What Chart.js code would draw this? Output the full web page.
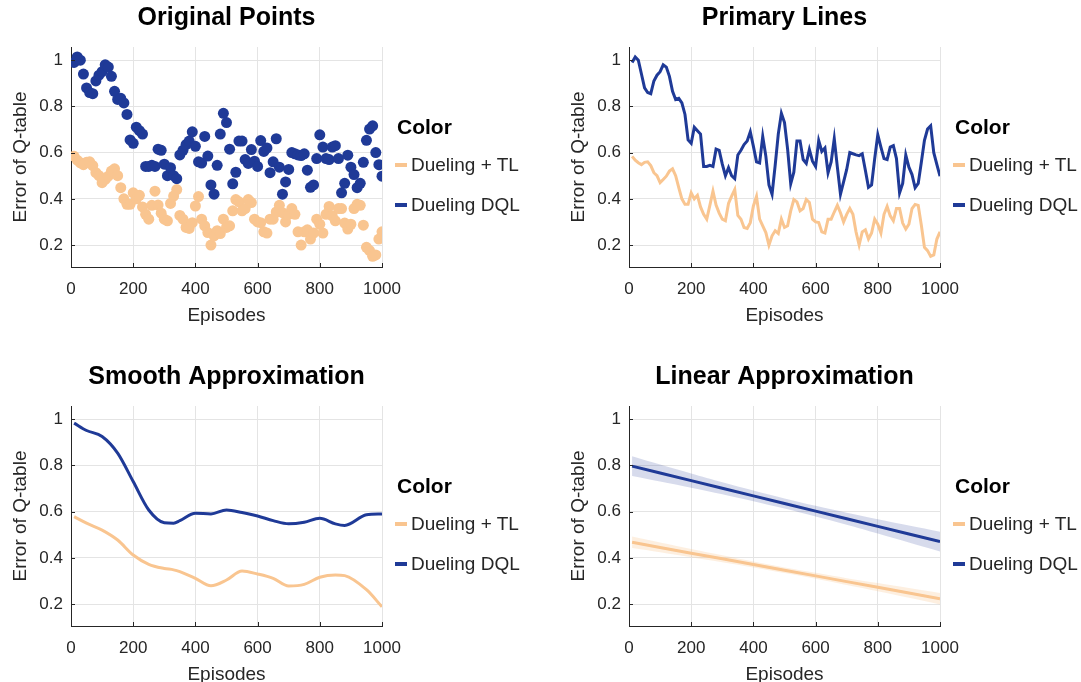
<!DOCTYPE html>
<html>
<head>
<meta charset="utf-8">
<script src="https://cdn.jsdelivr.net/npm/chart.js@4.4.1/dist/chart.umd.min.js"></script>
<style>
  html, body { margin: 0; padding: 0; background: #fff; overflow: hidden; }
  body { width: 1081px; height: 682px; position: relative; font-family: "Liberation Sans", Arial, sans-serif; }
  .panel { position: absolute; width: 523px; height: 341px; }
  .panel canvas { position: absolute; left: 0; top: 0; }
  .leg-title { position: absolute; left: 397px; top: 114px; height: 26px; line-height: 26px; font-size: 21px; font-weight: bold; color: #000; }
  .leg-item { position: absolute; left: 395px; height: 26px; line-height: 26px; font-size: 19px; color: #262626; white-space: nowrap; }
  .leg-item span { display: inline-block; width: 12px; height: 4px; margin-right: 4px; vertical-align: middle; position: relative; top: -1px; }
</style>
</head>
<body>
<div class="panel" id="p1" style="left:0;top:0"><canvas id="c1" width="523" height="341"></canvas></div>
<div class="panel" id="p2" style="left:558px;top:0"><canvas id="c2" width="523" height="341"></canvas></div>
<div class="panel" id="p3" style="left:0;top:359px"><canvas id="c3" width="523" height="341"></canvas></div>
<div class="panel" id="p4" style="left:558px;top:359px"><canvas id="c4" width="523" height="341"></canvas></div>
<script>
// 系列名と色
var seriesNames = ['Dueling + TL', 'Dueling DQL'];
var seriesColors = ['#F9C590', '#1F3A97'];
var bandColors = ['rgba(249,197,144,0.28)', 'rgba(31,58,151,0.18)'];

var xTicks = [0, 200, 400, 600, 800, 1000];
var yTicks = [0.2, 0.4, 0.6, 0.8, 1];
var yMin = 0.105, yMax = 1.057;

// 元データ (10 エピソードごと)
var episodes = [10, 20, 30, 40, 50, 60, 70, 80, 90, 100,
  110, 120, 130, 140, 150, 160, 170, 180, 190, 200,
  210, 220, 230, 240, 250, 260, 270, 280, 290, 300,
  310, 320, 330, 340, 350, 360, 370, 380, 390, 400,
  410, 420, 430, 440, 450, 460, 470, 480, 490, 500,
  510, 520, 530, 540, 550, 560, 570, 580, 590, 600,
  610, 620, 630, 640, 650, 660, 670, 680, 690, 700,
  710, 720, 730, 740, 750, 760, 770, 780, 790, 800,
  810, 820, 830, 840, 850, 860, 870, 880, 890, 900,
  910, 920, 930, 940, 950, 960, 970, 980, 990, 1000];

var tlErr = [0.584, 0.567, 0.556, 0.548, 0.558, 0.56, 0.544, 0.513, 0.5, 0.47,
  0.484, 0.498, 0.52, 0.53, 0.5, 0.448, 0.4, 0.376, 0.376, 0.426,
  0.4, 0.415, 0.365, 0.333, 0.312, 0.372, 0.433, 0.373, 0.338, 0.312,
  0.305, 0.38, 0.412, 0.44, 0.328, 0.312, 0.276, 0.272, 0.297, 0.369,
  0.41, 0.312, 0.283, 0.254, 0.2, 0.24, 0.262, 0.25, 0.312, 0.276,
  0.283, 0.348, 0.397, 0.387, 0.348, 0.358, 0.397, 0.384, 0.312, 0.3,
  0.297, 0.257, 0.252, 0.312, 0.312, 0.343, 0.372, 0.34, 0.3, 0.333,
  0.358, 0.333, 0.257, 0.2, 0.257, 0.266, 0.226, 0.252, 0.312, 0.29,
  0.252, 0.333, 0.367, 0.326, 0.305, 0.358, 0.358, 0.295, 0.269, 0.29,
  0.358, 0.376, 0.372, 0.286, 0.19, 0.176, 0.151, 0.157, 0.226, 0.257];

var dqlErr = [0.99, 1.014, 1.0, 0.94, 0.88, 0.86, 0.855, 0.91, 0.935, 0.95,
  0.98, 0.97, 0.93, 0.865, 0.83, 0.835, 0.815, 0.765, 0.655, 0.64,
  0.71, 0.695, 0.68, 0.54, 0.54, 0.545, 0.54, 0.615, 0.61, 0.55,
  0.5, 0.535, 0.5, 0.487, 0.59, 0.61, 0.635, 0.65, 0.69, 0.627,
  0.56, 0.555, 0.67, 0.585, 0.46, 0.42, 0.545, 0.68, 0.77, 0.73,
  0.615, 0.465, 0.515, 0.65, 0.65, 0.57, 0.553, 0.613, 0.563, 0.54,
  0.652, 0.605, 0.62, 0.513, 0.56, 0.66, 0.537, 0.42, 0.473, 0.527,
  0.6, 0.595, 0.59, 0.587, 0.595, 0.524, 0.45, 0.46, 0.574, 0.677,
  0.624, 0.574, 0.57, 0.624, 0.63, 0.574, 0.426, 0.467, 0.589, 0.537,
  0.505, 0.448, 0.467, 0.558, 0.653, 0.702, 0.716, 0.6, 0.548, 0.498];

// 平滑化曲線
var smoothEp = [10, 50, 100, 150, 200, 250, 300, 330, 350, 400, 450, 500, 550, 600, 650, 700, 750, 800, 850, 880, 950, 1000];
var tlSmooth = [0.578, 0.55, 0.52, 0.477, 0.412, 0.372, 0.354, 0.348, 0.34, 0.311, 0.279, 0.304, 0.343, 0.33, 0.311, 0.278, 0.285, 0.316, 0.326, 0.323, 0.262, 0.188];
var dqlSmooth = [0.983, 0.951, 0.925, 0.853, 0.73, 0.607, 0.552, 0.55, 0.561, 0.593, 0.59, 0.607, 0.596, 0.581, 0.561, 0.547, 0.554, 0.571, 0.547, 0.54, 0.586, 0.59];

// 線形近似と信頼区間
var linEp = [10, 100, 200, 300, 400, 500, 600, 700, 800, 900, 1000];
var tlLin = [0.467, 0.445, 0.420, 0.396, 0.371, 0.346, 0.322, 0.297, 0.273, 0.248, 0.223];
var tlLinUp = [0.492, 0.466, 0.438, 0.411, 0.384, 0.358, 0.335, 0.312, 0.291, 0.269, 0.248];
var tlLinLo = [0.442, 0.424, 0.402, 0.381, 0.358, 0.334, 0.309, 0.282, 0.255, 0.227, 0.198];
var dqlLin = [0.797, 0.767, 0.734, 0.701, 0.668, 0.635, 0.602, 0.569, 0.536, 0.503, 0.470];
var dqlLinUp = [0.840, 0.804, 0.765, 0.727, 0.691, 0.657, 0.625, 0.595, 0.567, 0.540, 0.513];
var dqlLinLo = [0.754, 0.730, 0.703, 0.675, 0.645, 0.613, 0.579, 0.543, 0.505, 0.466, 0.427];

Chart.defaults.font.family = '"Liberation Sans", Arial, sans-serif';

function pts(xs, ys) {
  return xs.map(function (x, i) { return { x: x, y: ys[i] }; });
}

// 内向きの目盛り線
var inwardTicks = {
  id: 'inwardTicks',
  afterDatasetsDraw: function (chart) {
    var ctx = chart.ctx, a = chart.chartArea;
    var sx = chart.scales.x, sy = chart.scales.y;
    ctx.save();
    ctx.strokeStyle = '#262626';
    ctx.lineWidth = 1;
    xTicks.forEach(function (v) {
      var px = Math.round(sx.getPixelForValue(v)) + 0.5;
      ctx.beginPath(); ctx.moveTo(px, a.bottom); ctx.lineTo(px, a.bottom - 4); ctx.stroke();
    });
    yTicks.forEach(function (v) {
      var py = Math.round(sy.getPixelForValue(v)) + 0.5;
      ctx.beginPath(); ctx.moveTo(a.left, py); ctx.lineTo(a.left + 4, py); ctx.stroke();
    });
    ctx.restore();
  }
};

function makeOptions(title) {
  return {
    responsive: false,
    animation: false,
    layout: { padding: { left: 0, right: 141, top: 0, bottom: 14 } },
    plugins: {
      legend: { display: false },
      tooltip: { enabled: false },
      title: {
        display: true, text: title, color: '#000', fullSize: false,
        font: { size: 25, weight: 'bold' }, padding: { top: 3, bottom: 14 }
      }
    },
    scales: {
      x: {
        type: 'linear', min: 0, max: 1000,
        afterBuildTicks: function (s) { s.ticks = xTicks.map(function (v) { return { value: v }; }); },
        afterFit: function (s) { s.height = 60; },
        ticks: { callback: function (v) { return String(v); }, font: { size: 17 }, color: '#262626', padding: 12, maxRotation: 0, autoSkip: false },
        grid: { color: '#e4e4e4', drawTicks: false },
        border: { color: '#262626' },
        title: { display: true, text: 'Episodes', font: { size: 19 }, color: '#262626', padding: { top: 4, bottom: 0 } }
      },
      y: {
        type: 'linear', min: yMin, max: yMax,
        afterBuildTicks: function (s) { s.ticks = yTicks.map(function (v) { return { value: v }; }); },
        afterFit: function (s) { s.width = 71; },
        ticks: { callback: function (v) { return String(v); }, font: { size: 17 }, color: '#262626', padding: 8, autoSkip: false },
        grid: { color: '#e4e4e4', drawTicks: false },
        border: { color: '#262626' },
        title: { display: true, text: 'Error of Q-table', font: { size: 19 }, color: '#262626', padding: { top: 9, bottom: 0 } }
      }
    }
  };
}

function buildLegend(panelId) {
  var panel = document.getElementById(panelId);
  var t = document.createElement('div');
  t.className = 'leg-title';
  t.textContent = 'Color';
  panel.appendChild(t);
  seriesNames.forEach(function (name, i) {
    var item = document.createElement('div');
    item.className = 'leg-item';
    item.style.top = (152 + i * 40) + 'px';
    item.innerHTML = '<span style="background:' + seriesColors[i] + '"></span>' + name;
    panel.appendChild(item);
  });
}

// 1: 元の点
new Chart(document.getElementById('c1'), {
  type: 'scatter',
  data: {
    datasets: [
      { label: seriesNames[0], data: pts(episodes, tlErr), backgroundColor: seriesColors[0], borderWidth: 0, pointRadius: 5.5 },
      { label: seriesNames[1], data: pts(episodes, dqlErr), backgroundColor: seriesColors[1], borderWidth: 0, pointRadius: 5.5 }
    ]
  },
  options: makeOptions('Original Points'),
  plugins: [inwardTicks]
});

// 2: 折れ線
new Chart(document.getElementById('c2'), {
  type: 'line',
  data: {
    datasets: [
      { label: seriesNames[0], data: pts(episodes, tlErr), borderColor: seriesColors[0], borderWidth: 3, pointRadius: 0, tension: 0 },
      { label: seriesNames[1], data: pts(episodes, dqlErr), borderColor: seriesColors[1], borderWidth: 3, pointRadius: 0, tension: 0 }
    ]
  },
  options: makeOptions('Primary Lines'),
  plugins: [inwardTicks]
});

// 3: 平滑化
new Chart(document.getElementById('c3'), {
  type: 'line',
  data: {
    datasets: [
      { label: seriesNames[0], data: pts(smoothEp, tlSmooth), borderColor: seriesColors[0], borderWidth: 3, pointRadius: 0, cubicInterpolationMode: 'monotone' },
      { label: seriesNames[1], data: pts(smoothEp, dqlSmooth), borderColor: seriesColors[1], borderWidth: 3, pointRadius: 0, cubicInterpolationMode: 'monotone' }
    ]
  },
  options: makeOptions('Smooth Approximation'),
  plugins: [inwardTicks]
});

// 4: 線形近似
new Chart(document.getElementById('c4'), {
  type: 'line',
  data: {
    datasets: [
      { label: seriesNames[0], data: pts(linEp, tlLin), borderColor: seriesColors[0], borderWidth: 3, pointRadius: 0, order: 0 },
      { label: seriesNames[1], data: pts(linEp, dqlLin), borderColor: seriesColors[1], borderWidth: 3, pointRadius: 0, order: 0 },
      { label: '_tlUp', data: pts(linEp, tlLinUp), borderWidth: 0, pointRadius: 0, tension: 0.3, fill: '+1', backgroundColor: bandColors[0], order: 1 },
      { label: '_tlLo', data: pts(linEp, tlLinLo), borderWidth: 0, pointRadius: 0, tension: 0.3, fill: false, order: 1 },
      { label: '_dqlUp', data: pts(linEp, dqlLinUp), borderWidth: 0, pointRadius: 0, tension: 0.3, fill: '+1', backgroundColor: bandColors[1], order: 1 },
      { label: '_dqlLo', data: pts(linEp, dqlLinLo), borderWidth: 0, pointRadius: 0, tension: 0.3, fill: false, order: 1 }
    ]
  },
  options: makeOptions('Linear Approximation'),
  plugins: [inwardTicks]
});

['p1', 'p2', 'p3', 'p4'].forEach(buildLegend);
</script>
</body>
</html>
